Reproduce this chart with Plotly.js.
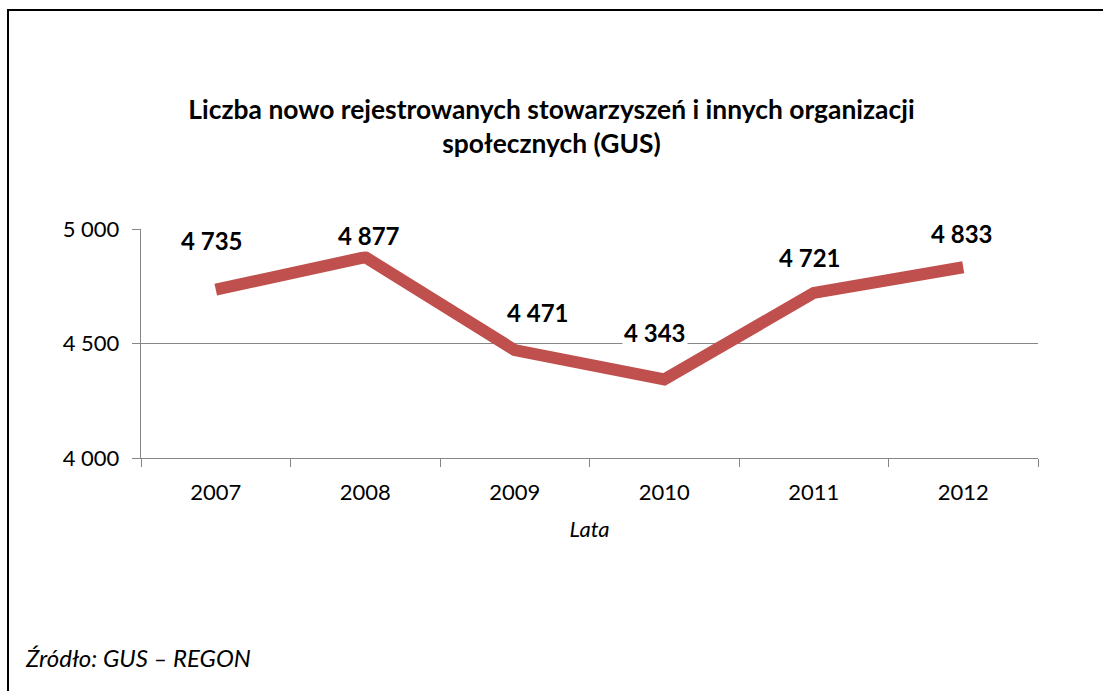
<!DOCTYPE html>
<html>
<head>
<meta charset="utf-8">
<script src="https://cdn.plot.ly/plotly-3.0.1.min.js"></script>
<style>
  body { margin: 0; background: #fff; overflow: hidden; }
  #frame { position: absolute; left: 7px; top: 9px; width: 1200px; height: 800px; border: 2px solid #000; }
  #plot { position: absolute; left: 0; top: 0; width: 1103px; height: 691px; }
</style>
</head>
<body>
<div id="frame"></div>
<div id="plot"></div>
<script>
var years = ['2007', '2008', '2009', '2010', '2011', '2012'];
var counts = [4735, 4877, 4471, 4343, 4721, 4833];

// hand placed label offsets (px) as in the original chart
var labelDx = [-4, 4, 23, -9, -4, -1];
var labelDy = [49, 22, 38, 47, 35, 34];

function fmt(v) {
  var s = String(v);
  return s.replace(/\B(?=(\d{3})+(?!\d))/g, ' ');
}

var font = 'Lato, "Open Sans", sans-serif';

var trace = {
  x: years,
  y: counts,
  type: 'scatter',
  mode: 'lines',
  line: { color: '#C0504D', width: 12 },
  hoverinfo: 'none'
};

// category axis: annotations placed by category index
var notes = years.map(function (yr, i) {
  return {
    x: i, y: counts[i], xref: 'x', yref: 'y',
    text: '<b>' + fmt(counts[i]) + '</b>',
    showarrow: false,
    xshift: labelDx[i], yshift: labelDy[i],
    bgcolor: '#fff',
    font: { family: font, size: 24, color: '#000' }
  };
});

notes.push({
  xref: 'paper', yref: 'paper', x: -0.131, y: -0.873,
  xanchor: 'left', yanchor: 'middle',
  text: '<i>Źródło: GUS – REGON</i>',
  showarrow: false,
  font: { family: font, size: 24, color: '#000' }
});

var layout = {
  width: 1103,
  height: 691,
  margin: { l: 141, r: 65, t: 229, b: 233 },
  paper_bgcolor: 'rgba(0,0,0,0)',
  plot_bgcolor: 'rgba(0,0,0,0)',
  separators: ', ',
  showlegend: false,
  title: {
    text: '<b>Liczba nowo rejestrowanych stowarzyszeń i innych organizacji<br>społecznych (GUS)</b>',
    font: { family: font, size: 26.4, color: '#000' },
    x: 0.5, xanchor: 'center',
    y: 0.828, yanchor: 'middle'
  },
  xaxis: {
    type: 'category',
    range: [-0.5, 5.5],
    showline: true, linecolor: '#868686', linewidth: 1.3,
    ticks: 'outside', tickson: 'boundaries', ticklen: 8, tickcolor: '#868686',
    showgrid: false,
    ticklabelstandoff: 14,
    tickfont: { family: font, size: 22, color: '#000' },
    title: { text: '<i>Lata</i>', font: { family: font, size: 22, color: '#000' }, standoff: 18 }
  },
  yaxis: {
    range: [4000, 5000],
    tickvals: [4000, 4500, 5000],
    tickformat: ',d',
    showline: true, linecolor: '#868686', linewidth: 1.3,
    ticks: 'outside', ticklen: 8, tickcolor: '#868686',
    showgrid: true, gridcolor: '#868686', gridwidth: 1.3,
    zeroline: false,
    ticklabelstandoff: 8,
    tickfont: { family: font, size: 22, color: '#000' }
  },
  annotations: notes
};

Plotly.newPlot('plot', [trace], layout, { staticPlot: true });
</script>
</body>
</html>
